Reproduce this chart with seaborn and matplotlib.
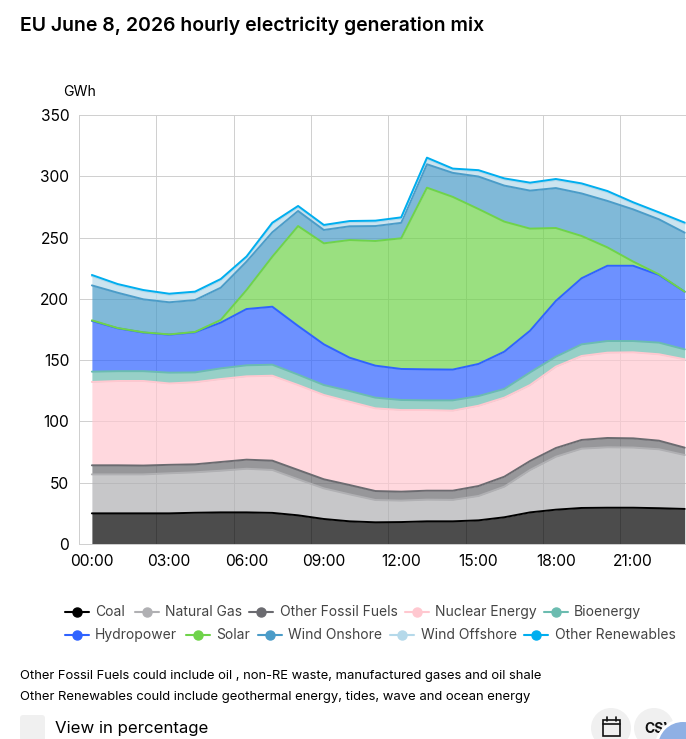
import numpy as np
import pandas as pd
import matplotlib
matplotlib.use("Agg")
import matplotlib.pyplot as plt
from matplotlib.patches import Circle, FancyBboxPatch, Rectangle
import seaborn as sns

# Hourly values in GWh
hours = list(range(24))
coal = [25, 25, 25, 25, 25.5, 25.8, 25.8, 25.4, 23.4, 20.4, 18.5, 17.7, 17.9, 18.5, 18.5, 19.3, 21.8, 25.8, 28, 29.4, 29.6, 29.6, 29.2, 28.6]
natural_gas = [31.8, 31.8, 31.8, 32.7, 33, 34, 35.6, 35, 29.4, 25, 22, 18.2, 17.5, 17.7, 17.5, 19.9, 25, 34.6, 43.2, 48.4, 49.3, 49.1, 48.1, 44]
other_fossil = [7.4, 7.4, 7.2, 6.9, 6.5, 7.1, 7.4, 7.6, 7.6, 7.4, 7.6, 7.3, 7.3, 7.3, 7.5, 8.1, 8.1, 7.3, 7.1, 7.1, 7.6, 7.5, 7, 6]
nuclear = [68, 68.8, 69, 66.4, 67, 67.7, 68, 69.3, 69.3, 68.8, 68, 67.5, 66.6, 65.8, 65.3, 65.5, 64.5, 62, 66.4, 68.5, 69.6, 70.2, 70.5, 72.1]
bioenergy = [8.4, 8, 8, 8.8, 8, 8.7, 9, 9, 8.5, 8.1, 8.7, 8.7, 8.2, 7.9, 8.4, 7.9, 7.1, 10.3, 8.1, 9.5, 9.5, 9.2, 9.5, 8.1]
hydro = [41.4, 35, 31.5, 31, 32.7, 37.3, 45.9, 47.3, 39.7, 33.2, 27.2, 26.1, 25.3, 25.3, 25.1, 26.2, 30.4, 34, 45.5, 53.9, 61.4, 61.4, 55.2, 47]
solar = [0.5, 0.2, 0.2, 0.2, 0.3, 2.2, 15.5, 40.8, 81.5, 82.4, 96, 101.7, 106.6, 148.2, 140.9, 126.4, 106.1, 83.3, 59.5, 34.5, 15, 3.4, 0.5, 0]
wind_onshore = [28.5, 28.8, 26.9, 26.2, 26, 26.3, 23.2, 19.9, 12.3, 10.9, 11.2, 12.2, 12.6, 19.1, 19.6, 26.5, 29.4, 31, 32.6, 34.7, 37.9, 42.6, 44.9, 48.2]
wind_offshore = [7.6, 6.2, 6.7, 6.1, 6, 6.2, 3.3, 6.9, 3.2, 3.2, 3.4, 3.5, 3.6, 4.5, 2.6, 4.3, 5, 5.6, 6.5, 7.3, 7.2, 4.9, 4.8, 7.3]
other_renewables = [0.9] * 24

names = ["Coal", "Natural Gas", "Other Fossil Fuels", "Nuclear Energy", "Bioenergy",
         "Hydropower", "Solar", "Wind Onshore", "Wind Offshore", "Other Renewables"]
series = [coal, natural_gas, other_fossil, nuclear, bioenergy,
          hydro, solar, wind_onshore, wind_offshore, other_renewables]
colors = ["#000000", "#b0b0b3", "#6b6b70", "#ffc8d0", "#6bbcb0",
          "#2f63ff", "#6fd34a", "#4b9cc8", "#b5d9ea", "#00aeef"]
y_ticks = [0, 50, 100, 150, 200, 250, 300, 350]
x_labels = ["00:00", "03:00", "06:00", "09:00", "12:00", "15:00", "18:00", "21:00"]

title = "EU June 8, 2026 hourly electricity generation mix"
notes = ["Other Fossil Fuels could include oil , non-RE waste, manufactured gases and oil shale",
         "Other Renewables could include geothermal energy, tides, wave and ocean energy"]

W, H = 686, 739
sns.set_theme(style="whitegrid")
plt.rcParams["font.family"] = ["Inter", "DejaVu Sans"]

# Long table with the running top of each band
tops = np.cumsum(np.array(series), axis=0)
df = pd.DataFrame({"hour": hours * len(names),
                   "source": np.repeat(names, len(hours)),
                   "top": tops.ravel()})

fig = plt.figure(figsize=(W / 100, H / 100), dpi=100)
ax = fig.add_axes([79 / W, 1 - 544 / H, (W - 79) / W, (544 - 115) / H])

ax.stackplot(hours, *series, colors=colors, alpha=0.7, linewidth=0, zorder=2)
sns.lineplot(data=df, x="hour", y="top", hue="source", hue_order=names,
             palette=colors, linewidth=1.4, legend=False, ax=ax, zorder=3)

ax.set_xlim(-0.5, 23.05)
ax.set_ylim(0, 350)
ax.set_xlabel("")
ax.set_ylabel("")
ax.set_yticks(y_ticks)
ax.tick_params(axis="y", length=5, width=0.7, color="#cfcfcf", labelsize=11.2, labelcolor="#000000", pad=2)

# gridlines sit on the band edges, the labels on the band centres
ax.set_xticks(np.arange(-0.5, 23, 3))
ax.set_xticklabels([])
ax.tick_params(axis="x", which="major", length=5, width=0.7, color="#cfcfcf")
ax.set_xticks(np.arange(0, 22, 3), minor=True)
ax.set_xticklabels(x_labels, minor=True)
ax.tick_params(axis="x", which="minor", length=0, labelsize=11.2, labelcolor="#000000", pad=7)
ax.grid(True, which="major", color="#cfcfcf", linewidth=0.7, zorder=1)
ax.grid(False, which="minor")
ax.set_axisbelow(True)
for side in ["top", "right"]:
    ax.spines[side].set_visible(False)
for side in ["left", "bottom"]:
    ax.spines[side].set_color("#cfcfcf")
    ax.spines[side].set_linewidth(0.7)

# Page layer in pixels for everything around the chart
page = fig.add_axes([0, 0, 1, 1], zorder=5)
page.set_xlim(0, W)
page.set_ylim(H, 0)
page.axis("off")

page.text(20, 26, title, fontsize=14, fontweight="semibold", color="#000000", va="center")
page.text(63, 92, "GWh", fontsize=10.2, color="#000000", va="center")

legend_row = [612, 612, 612, 612, 612, 635, 635, 635, 635, 635]
legend_x = [65, 135, 249, 405, 544, 65, 186, 258, 390, 524]
text_x = [95, 165, 280, 435, 574, 95, 216, 288, 421, 555]
for name, color, row, lx, tx in zip(names, colors, legend_row, legend_x, text_x):
    page.plot([lx, lx + 24], [row, row], color=color, linewidth=1.5)
    page.plot([lx + 12], [row], "o", color=color, markersize=6.5)
    page.text(tx, row, name, fontsize=10, color="#444444", va="center")

page.text(20, 676, notes[0], fontsize=9.35, color="#000000", va="center")
page.text(20, 697, notes[1], fontsize=9.4, color="#000000", va="center")

# Controls under the chart
page.add_patch(FancyBboxPatch((20, 715), 25, 26, boxstyle="round,pad=0,rounding_size=3",
                              facecolor="#f0f0f0", edgecolor="none"))
page.text(55, 728, "View in percentage", fontsize=12.1, color="#000000", va="center")
page.add_patch(Circle((611, 728), 20, facecolor="#f0f0f0", edgecolor="none"))
page.add_patch(Circle((654, 728), 20, facecolor="#f0f0f0", edgecolor="none"))
page.add_patch(Rectangle((603, 720), 17, 16, facecolor="none", edgecolor="#111111", linewidth=1.2))
page.plot([603, 620], [724, 724], color="#111111", linewidth=1.2)
page.plot([607, 607], [717, 721], color="#111111", linewidth=1.2)
page.plot([616, 616], [717, 721], color="#111111", linewidth=1.2)
page.text(644, 729, "CSV", fontsize=10, fontweight="bold", color="#111111", va="center")
page.add_patch(Circle((683, 747), 28, facecolor="#ffffff", edgecolor="none", zorder=4))
page.add_patch(Circle((683, 747), 25, facecolor="#8fb0e4", edgecolor="none", zorder=5))

fig.savefig("out.png", dpi=100)
